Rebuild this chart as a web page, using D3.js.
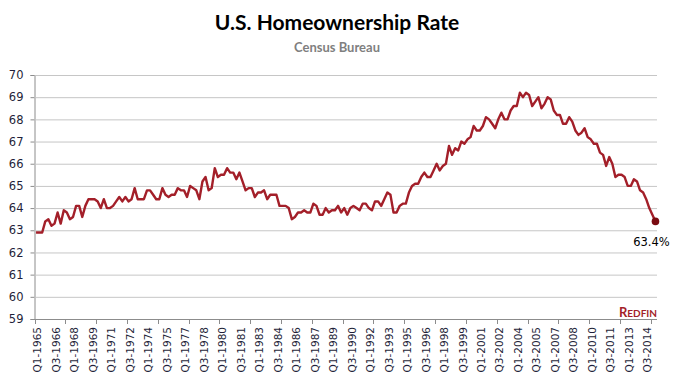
<!DOCTYPE html>
<html><head><meta charset="utf-8">
<script src="https://cdn.jsdelivr.net/npm/d3@7"></script>
<style>body{margin:0;background:#fff}svg{display:block}</style>
</head><body><svg id="c" width="673" height="384"></svg>
<script>
const startYear = 1965;
const rates = [
62.9,62.9,62.9,63.4, 63.5,63.2,63.3,63.8, 63.3,63.9,63.8,63.5, 63.6,64.1,64.1,63.6, 64.1,64.4,64.4,64.4,
64.3,64.0,64.4,64.0, 64.0,64.1,64.3,64.5, 64.3,64.5,64.3,64.4, 64.9,64.4,64.4,64.4, 64.8,64.8,64.6,64.4,
64.4,64.9,64.6,64.5, 64.6,64.6,64.9,64.8, 64.8,64.5,65.0,64.9, 64.8,64.4,65.2,65.4, 64.8,64.9,65.8,65.4,
65.5,65.5,65.8,65.6, 65.6,65.3,65.6,65.2, 64.8,64.9,64.9,64.5, 64.7,64.7,64.8,64.4, 64.6,64.6,64.6,64.1,
64.1,64.1,64.0,63.5, 63.6,63.8,63.8,63.9, 63.8,63.8,64.2,64.1, 63.7,63.7,64.0,63.8, 63.9,63.9,64.1,63.8,
64.0,63.7,64.0,64.1, 64.0,63.9,64.2,64.2, 64.0,63.9,64.3,64.3, 64.1,64.4,64.7,64.6, 63.8,63.8,64.1,64.2,
64.2,64.7,65.0,65.1, 65.1,65.4,65.6,65.4, 65.4,65.7,66.0,65.7, 65.9,66.0,66.8,66.4, 66.7,66.6,67.0,66.9,
67.1,67.2,67.7,67.5, 67.5,67.7,68.1,68.0, 67.8,67.6,68.0,68.3, 68.0,68.0,68.4,68.6, 68.6,69.2,69.0,69.2,
69.1,68.6,68.8,69.0, 68.5,68.7,69.0,68.9, 68.4,68.2,68.2,67.8, 67.8,68.1,67.9,67.5, 67.3,67.4,67.6,67.2,
67.1,66.9,66.9,66.5, 66.4,65.9,66.3,66.0, 65.4,65.5,65.5,65.4, 65.0,65.0,65.3,65.2, 64.8,64.7,64.4,64.0,
63.7,63.4
];
const categories = rates.map((v,i)=>"Q"+(i%4+1)+"-"+(startYear+Math.floor(i/4)));
const yTicks = [59,60,61,62,63,64,65,66,67,68,69,70];
const labelEvery = 6, tickEvery = 10;
const title = "U.S. Homeownership Rate";
const subtitle = "Census Bureau";
const endLabel = "63.4%";

const svg = d3.select("#c");
const L = 34.5, R = 657, T = 75, B = 319;
const x = d3.scaleBand().domain(categories).range([L, R]).padding(0);
const y = d3.scaleLinear().domain([59,70]).range([B, T]);
const cx = c => x(c) + x.bandwidth()/2;

svg.append("text").attr("x",337).attr("y",30).attr("text-anchor","middle")
  .style("font-family","Lato, 'Open Sans', sans-serif").style("font-weight","bold").style("font-size","21px")
  .attr("fill","#000").text(title);
svg.append("text").attr("x",337).attr("y",52).attr("text-anchor","middle")
  .style("font-family","Lato, 'Open Sans', sans-serif").style("font-weight","bold").style("font-size","13px")
  .attr("fill","#7f7f7f").text(subtitle);

// gridlines + y axis
const ya = svg.append("g").attr("transform",`translate(${L},0)`)
  .call(d3.axisLeft(y).tickValues(yTicks).tickSize(4).tickFormat(d3.format("d")));
ya.select(".domain").attr("stroke","#8c8c8c");
ya.selectAll(".tick line").attr("stroke","#8c8c8c");
ya.selectAll(".tick text").attr("fill","#1f1f3a").attr("x",-11)
  .style("font-family","'DejaVu Sans', Verdana, sans-serif").style("font-size","11.5px");
svg.append("g").selectAll("line").data(yTicks.filter(d=>d>59)).join("line")
  .attr("x1",L).attr("x2",R).attr("y1",d=>y(d)+0.5).attr("y2",d=>y(d)+0.5)
  .attr("stroke","#c6c6c6").attr("stroke-width",1);

// x axis
const xa = svg.append("g").attr("transform",`translate(0,${B})`);
xa.append("line").attr("x1",L).attr("x2",R).attr("y1",0.5).attr("y2",0.5).attr("stroke","#8c8c8c");
const tickIdx = d3.range(0, categories.length+1, tickEvery);
xa.selectAll("line.tk").data(tickIdx).join("line").attr("class","tk")
  .attr("x1",i=>Math.round(L + i*x.bandwidth())+0.5).attr("x2",i=>Math.round(L + i*x.bandwidth())+0.5)
  .attr("y1",0).attr("y2",5).attr("stroke","#8c8c8c");
const labCats = categories.filter((c,i)=>i%labelEvery===0);
xa.selectAll("text").data(labCats).join("text")
  .attr("transform",c=>`translate(${cx(c)+1.5},8) rotate(-90)`)
  .attr("text-anchor","end").attr("dy","0.35em")
  .style("font-family","'DejaVu Sans', Verdana, sans-serif").style("font-size","10.5px")
  .attr("fill","#1f1f3a").text(c=>c);

// line
const line = d3.line().x((d,i)=>cx(categories[i])).y(d=>y(d)).curve(d3.curveLinear);
svg.append("path").datum(rates).attr("d",line).attr("fill","none")
  .attr("stroke","#a31f29").attr("stroke-width",2.4).attr("stroke-linejoin","round");
const last = categories.length-1;
svg.append("circle").attr("cx",cx(categories[last])).attr("cy",y(rates[last])).attr("r",3.8).attr("fill","#7a0a10");
svg.append("text").attr("x",cx(categories[last])-4).attr("y",y(rates[last])+25).attr("text-anchor","middle")
  .style("font-family","'DejaVu Sans', Verdana, sans-serif").style("font-size","11.5px").attr("fill","#000").text(endLabel);

// logo
const logo = svg.append("text").attr("x",657).attr("y",317).attr("text-anchor","end")
  .style("font-family","Lato, 'Open Sans', sans-serif").style("font-weight","bold").attr("fill","#a31f29");
logo.append("tspan").style("font-size","13px").text("R");
logo.append("tspan").style("font-size","10px").text("EDFIN");
</script></body></html>
